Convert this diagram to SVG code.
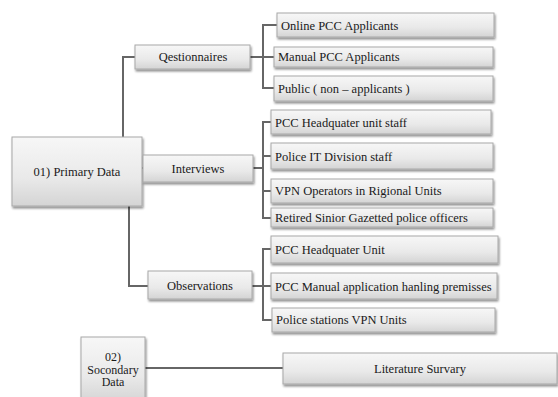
<svg xmlns="http://www.w3.org/2000/svg" width="558" height="397" viewBox="0 0 558 397" font-family="'Liberation Serif', 'Times New Roman', serif">
<defs>
<linearGradient id="g" x1="0" y1="0" x2="0" y2="1">
<stop offset="0" stop-color="#f7f7f7"/>
<stop offset="0.6" stop-color="#e9e9e9"/>
<stop offset="1" stop-color="#d4d4d4"/>
</linearGradient>
<filter id="sh" x="-10%" y="-20%" width="120%" height="150%">
<feGaussianBlur in="SourceAlpha" stdDeviation="1"/>
<feOffset dx="1" dy="1.5" result="b"/>
<feComponentTransfer><feFuncA type="linear" slope="0.45"/></feComponentTransfer>
<feMerge><feMergeNode/><feMergeNode in="SourceGraphic"/></feMerge>
</filter>
</defs>
<style>
.box{fill:url(#g);stroke:#a8a8a8;stroke-width:1;filter:url(#sh)}
text{font-family:'Liberation Serif','Times New Roman',serif;font-size:12.5px;fill:#1a1a1a}
.c{text-anchor:middle}
.s{font-size:12px}
.ln{fill:none;stroke:#666;stroke-width:2}
</style>
<rect width="558" height="397" fill="#fff"/>
<g id="connectors">
<path class="ln" d="M123 137 V57 H135"/>
<path class="ln" d="M142 168 H143"/>
<path class="ln" d="M129 206 V286 H148"/>
<path class="ln" d="M250 57 H263"/>
<path class="ln" d="M277 25 H263 V88 H274"/>
<path class="ln" d="M263 57 H274"/>
<path class="ln" d="M253 168 H263"/>
<path class="ln" d="M271 122 H263 V218 H271"/>
<path class="ln" d="M263 156 H271"/>
<path class="ln" d="M263 191 H271"/>
<path class="ln" d="M252 286 H263"/>
<path class="ln" d="M271 249 H263 V320 H272"/>
<path class="ln" d="M263 286 H271"/>
<path class="ln" d="M145 368 H283"/>
</g>
<g id="primary"><rect class="box" x="12" y="137" width="130" height="69"/><text class="c" x="77" y="176">01) Primary Data</text></g>
<g id="questionnaires"><rect class="box" x="135" y="45" width="115" height="24"/><text class="c" x="193" y="61">Qestionnaires</text></g>
<g id="interviews"><rect class="box" x="143" y="155" width="110" height="27"/><text class="c" x="198" y="173">Interviews</text></g>
<g id="observations"><rect class="box" x="148" y="271" width="104" height="28"/><text class="c" x="200" y="290">Observations</text></g>
<g id="online"><rect class="box" x="277" y="13" width="217" height="24"/><text x="281" y="30">Online PCC Applicants</text></g>
<g id="manual"><rect class="box" x="274" y="47" width="219" height="20"/><text x="278" y="61">Manual PCC Applicants</text></g>
<g id="public"><rect class="box" x="274" y="76" width="219" height="25"/><text x="278" y="93">Public ( non – applicants )</text></g>
<g id="hq-staff"><rect class="box" x="271" y="110" width="220" height="24"/><text x="275" y="127">PCC Headquater unit  staff</text></g>
<g id="it-staff"><rect class="box" x="271" y="143" width="222" height="26"/><text x="275" y="161">Police IT Division staff</text></g>
<g id="vpn-ops"><rect class="box" x="271" y="179" width="222" height="24"/><text x="275" y="195">VPN Operators in Rigional Units</text></g>
<g id="retired"><rect class="box" x="271" y="208" width="222" height="19"/><text x="275" y="222">Retired Sinior Gazetted police officers</text></g>
<g id="hq-unit"><rect class="box" x="271" y="236" width="227" height="27"/><text x="275" y="254">PCC Headquater Unit</text></g>
<g id="manual-prem"><rect class="box" x="271" y="273" width="226" height="26"/><text x="275" y="291">PCC Manual application hanling premisses</text></g>
<g id="police-vpn"><rect class="box" x="272" y="308" width="223" height="24"/><text x="276" y="324">Police stations VPN Units</text></g>
<g id="secondary"><rect class="box" x="81" y="337" width="64" height="66"/><text class="c s" x="113" y="361">02)</text><text class="c s" x="113" y="373.5">Socondary</text><text class="c s" x="113" y="386">Data</text></g>
<g id="literature"><rect class="box" x="283" y="353" width="274" height="31"/><text class="c" x="420" y="373">Literature Survary</text></g>
</svg>
